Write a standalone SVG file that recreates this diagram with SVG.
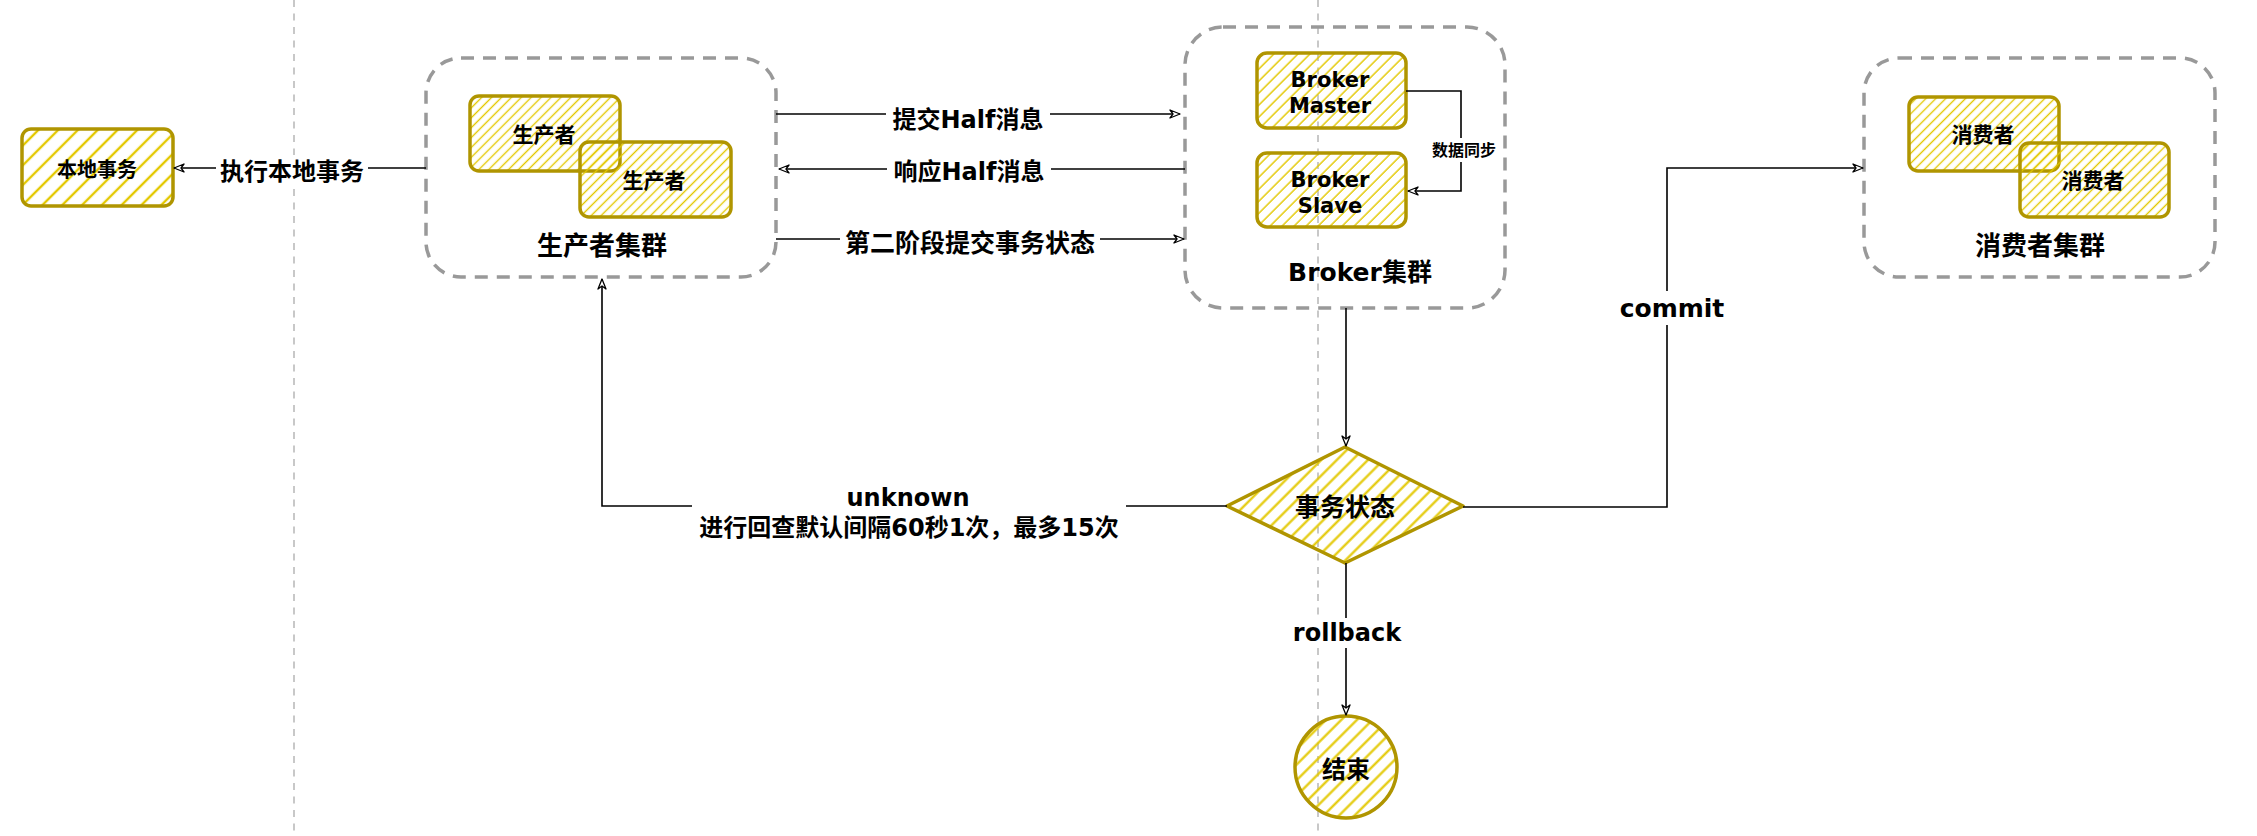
<svg xmlns="http://www.w3.org/2000/svg" width="2257" height="836" viewBox="0 0 2257 836">
<style>
.t{font-family:"DejaVu Sans","Noto Sans CJK SC",sans-serif;font-weight:bold;fill:#000;text-anchor:middle;dominant-baseline:central}
.cl{fill:none;stroke:#999;stroke-width:3.5;stroke-dasharray:13 9}
.nd{stroke:#B09500;stroke-width:3.5;stroke-linejoin:round}
.ln{fill:none;stroke:#000;stroke-width:1.6}
.bg{fill:#fff}
.guide{stroke:#c8c8c8;stroke-width:2;stroke-dasharray:7 6.5}
</style>
<defs>
<pattern id="h7" width="7" height="7" patternUnits="userSpaceOnUse" patternTransform="rotate(45)"><line x1="3.5" y1="0" x2="3.5" y2="7" stroke="#e3c800" stroke-width="1.4"/></pattern>
<pattern id="h9" width="8.5" height="8.5" patternUnits="userSpaceOnUse" patternTransform="rotate(45)"><line x1="4" y1="0" x2="4" y2="8.5" stroke="#e3c800" stroke-width="1.5"/></pattern>
<pattern id="h11" width="11" height="11" patternUnits="userSpaceOnUse" patternTransform="rotate(45)"><line x1="5.5" y1="0" x2="5.5" y2="11" stroke="#e3c800" stroke-width="2.2"/></pattern>
<pattern id="h14" width="14" height="14" patternUnits="userSpaceOnUse" patternTransform="rotate(45)"><line x1="7" y1="0" x2="7" y2="14" stroke="#e3c800" stroke-width="2.4"/></pattern>
<marker id="arr" viewBox="0 0 12 10" refX="11" refY="5" markerWidth="12" markerHeight="10" markerUnits="userSpaceOnUse" orient="auto">
<path d="M1,1 L11,5 L1,9 L4,5 Z" fill="#fff" stroke="#000" stroke-width="1.3" stroke-linejoin="round"/>
</marker>
</defs>
<rect width="2257" height="836" fill="#fff"/>
<g id="guides">
<line class="guide" x1="294" y1="0" x2="294" y2="836"/>
<line class="guide" x1="1318" y1="0" x2="1318" y2="836"/>
</g>
<g id="producer-cluster">
<rect class="cl" x="426" y="58" width="350" height="219" rx="35"/>
<text class="t" x="602" y="246" font-size="26">生产者集群</text>
</g>
<g id="producer1">
<rect class="nd" x="470" y="96" width="150" height="75" rx="9" fill="url(#h7)"/>
<text class="t" x="544" y="135" font-size="21">生产者</text>
</g>
<g id="producer2">
<rect class="nd" x="580" y="142" width="151" height="75" rx="9" fill="url(#h7)"/>
<text class="t" x="654" y="181" font-size="21">生产者</text>
</g>
<g id="local-tx">
<rect class="nd" x="22" y="129" width="151" height="77" rx="9" fill="url(#h14)"/>
<text class="t" x="97" y="170" font-size="20">本地事务</text>
</g>
<g id="broker-cluster">
<rect class="cl" x="1185" y="27" width="320" height="281" rx="38"/>
<text class="t" x="1360" y="272" font-size="25">Broker集群</text>
</g>
<g id="broker-master">
<rect class="nd" x="1257" y="53" width="149" height="75" rx="10" fill="url(#h9)"/>
<text class="t" x="1330" y="80" font-size="21">Broker</text>
<text class="t" x="1330" y="106" font-size="21">Master</text>
</g>
<g id="broker-slave">
<rect class="nd" x="1257" y="153" width="149" height="74" rx="10" fill="url(#h9)"/>
<text class="t" x="1330" y="180" font-size="21">Broker</text>
<text class="t" x="1330" y="206" font-size="21">Slave</text>
</g>
<g id="consumer-cluster">
<rect class="cl" x="1864" y="58" width="351" height="219" rx="35"/>
<text class="t" x="2040" y="246" font-size="26">消费者集群</text>
</g>
<g id="consumer1">
<rect class="nd" x="1909" y="97" width="150" height="74" rx="9" fill="url(#h7)"/>
<text class="t" x="1983" y="135" font-size="21">消费者</text>
</g>
<g id="consumer2">
<rect class="nd" x="2020" y="143" width="149" height="74" rx="9" fill="url(#h7)"/>
<text class="t" x="2093" y="181" font-size="21">消费者</text>
</g>
<g id="tx-state">
<path class="nd" d="M1227,506 L1345,447 L1463,506 L1345,563 Z" fill="url(#h11)" stroke-width="4.5"/>
<text class="t" x="1345" y="507" font-size="25">事务状态</text>
</g>
<g id="end">
<circle class="nd" cx="1346" cy="767" r="51" fill="url(#h11)" stroke-width="5"/>
<text class="t" x="1346" y="770" font-size="24">结束</text>
</g>
<g id="connectors">
<line class="ln" x1="426" y1="168" x2="174" y2="168" marker-end="url(#arr)"/>
<rect class="bg" x="216" y="155" width="152" height="32"/>
<text class="t" x="292" y="172" font-size="24">执行本地事务</text>

<line class="ln" x1="776" y1="114" x2="1180" y2="114" marker-end="url(#arr)"/>
<rect class="bg" x="886" y="102" width="164" height="34"/>
<text class="t" x="968" y="120" font-size="24">提交Half消息</text>

<line class="ln" x1="1185" y1="169" x2="779" y2="169" marker-end="url(#arr)"/>
<rect class="bg" x="887" y="155" width="164" height="34"/>
<text class="t" x="969" y="172" font-size="24">响应Half消息</text>

<line class="ln" x1="776" y1="239" x2="1184" y2="239" marker-end="url(#arr)"/>
<rect class="bg" x="840" y="225" width="260" height="34"/>
<text class="t" x="970" y="243" font-size="25">第二阶段提交事务状态</text>

<polyline class="ln" points="1406,91 1461,91 1461,191 1408,191" marker-end="url(#arr)"/>
<rect class="bg" x="1428" y="138" width="72" height="24"/>
<text class="t" x="1464" y="150" font-size="16">数据同步</text>

<line class="ln" x1="1346" y1="308" x2="1346" y2="446" marker-end="url(#arr)"/>

<polyline class="ln" points="1227,506 602,506 602,279" marker-end="url(#arr)"/>
<rect class="bg" x="692" y="480" width="434" height="66"/>
<text class="t" x="908" y="498" font-size="24">unknown</text>
<text class="t" x="909" y="528" font-size="24">进行回查默认间隔60秒1次，最多15次</text>

<polyline class="ln" points="1463,507 1667,507 1667,168 1863,168" marker-end="url(#arr)"/>
<rect class="bg" x="1618" y="291" width="108" height="34"/>
<text class="t" x="1672" y="308" font-size="25">commit</text>

<line class="ln" x1="1346" y1="563" x2="1346" y2="715" marker-end="url(#arr)"/>
<rect class="bg" x="1290" y="618" width="114" height="30"/>
<text class="t" x="1347" y="633" font-size="24">rollback</text>
</g>
</svg>
